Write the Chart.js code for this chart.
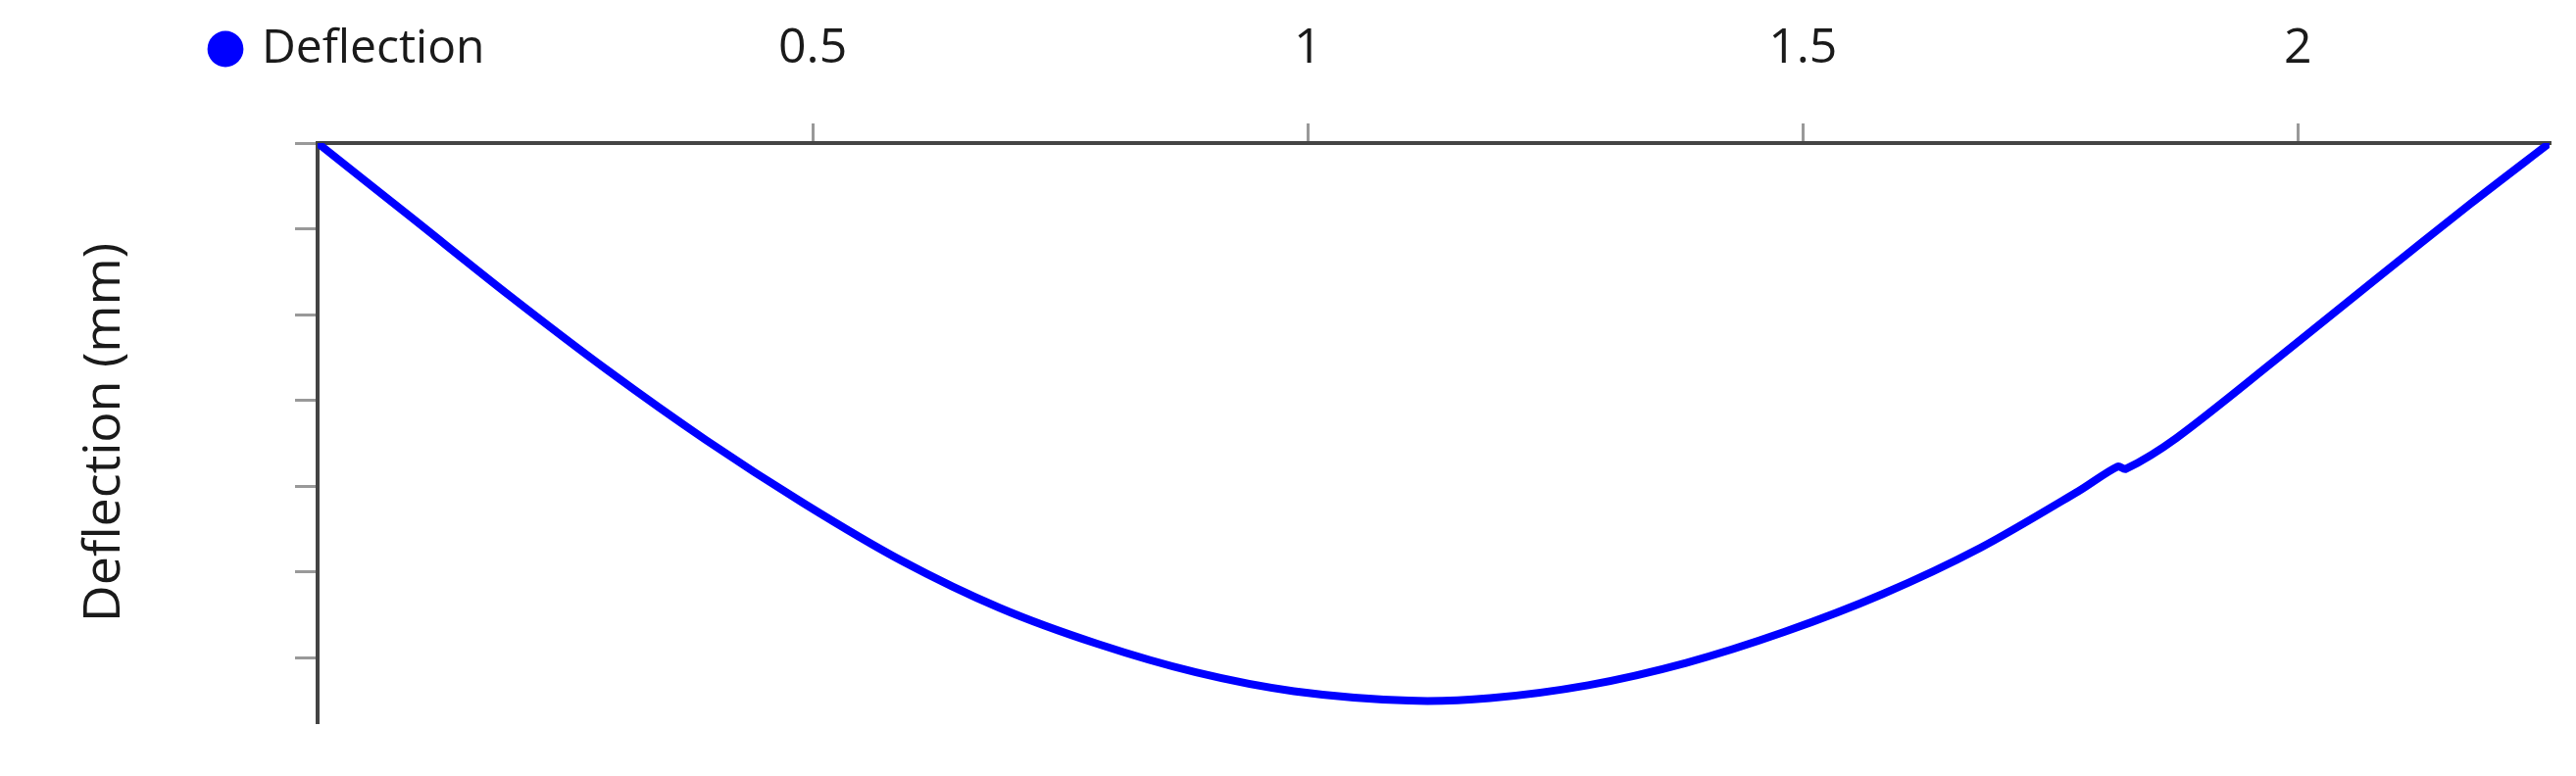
<!DOCTYPE html>
<html>
<head>
<meta charset="utf-8">
<script src="https://cdn.jsdelivr.net/npm/chart.js@4.4.1/dist/chart.umd.min.js"></script>
<style>
  html, body { margin: 0; padding: 0; background: #fff; }
  #deflection_chart { display: block; }
</style>
</head>
<body>
<canvas id="deflection_chart" width="2628" height="792"></canvas>
<script>
// position along the beam (m) and deflection (mm)
const position = [0, 0.095, 0.194, 0.293, 0.392, 0.491, 0.590, 0.689, 0.788, 0.887, 0.986, 1.102, 1.184,
  1.283, 1.382, 1.481, 1.580, 1.679, 1.778, 1.818, 1.826, 1.877, 1.976, 2.075, 2.174, 2.254];
const deflection = [0, -0.87, -1.78, -2.65, -3.46, -4.20, -4.87, -5.42, -5.84, -6.17, -6.39, -6.50, -6.47,
  -6.32, -6.06, -5.70, -5.26, -4.72, -4.06, -3.77, -3.80, -3.44, -2.54, -1.62, -0.71, 0];
const xTicks = [0.5, 1, 1.5, 2];
const yTicks = [0, -1, -2, -3, -4, -5, -6];

Chart.defaults.font.family = "'Open Sans', sans-serif";

// legend takes no room in the layout, it is drawn in the row of the top axis labels
const legendPlace = {
  id: 'legendPlace',
  beforeInit(chart) {
    const fit = chart.legend.fit;
    chart.legend.fit = function () { fit.call(this); this.height = 0; };
  },
  beforeDraw(chart) {
    const lg = chart.legend;
    lg.left = 207;
    lg.top = 16;
    lg.height = 68;
    lg.bottom = 84;
  }
};

const deflection_chart = document.getElementById('deflection_chart');

new Chart(deflection_chart, {
  type: 'line',
  data: {
    datasets: [{
      label: 'Deflection',
      data: position.map((x, i) => ({ x: x, y: deflection[i] })),
      borderColor: '#0000ff',
      backgroundColor: '#0000ff',
      pointBackgroundColor: '#0000ff',
      pointBorderWidth: 0,
      pointStyle: 'circle',
      pointRadius: 0,
      borderWidth: 8,
      tension: 0.3
    }]
  },
  plugins: [legendPlace],
  options: {
    responsive: false,
    animation: false,
    layout: { padding: { left: 72, right: 27, top: 0, bottom: 55 } },
    plugins: {
      tooltip: { enabled: false },
      legend: {
        position: 'top',
        align: 'start',
        labels: {
          usePointStyle: true,
          boxWidth: 26,
          boxHeight: 26,
          padding: 10,
          color: '#1a1a1a',
          font: { size: 48 }
        }
      }
    },
    scales: {
      x: {
        type: 'linear',
        position: 'top',
        min: 0,
        max: 2.254,
        afterBuildTicks: scale => { scale.ticks = xTicks.map(v => ({ value: v })); },
        afterFit: scale => { scale.height = 146; },
        ticks: {
          color: '#1a1a1a',
          font: { size: 50 },
          padding: 46,
          maxRotation: 0,
          autoSkip: false,
          callback: v => String(v)
        },
        grid: { drawOnChartArea: false, tickLength: 20, color: '#999', lineWidth: 3 },
        border: { color: '#444', width: 4 }
      },
      y: {
        type: 'linear',
        min: -6.75,
        max: 0,
        afterBuildTicks: scale => { scale.ticks = yTicks.map(v => ({ value: v })); },
        afterFit: scale => { scale.width = 252; },
        ticks: { display: false },
        grid: { drawOnChartArea: false, tickLength: 23, color: '#999', lineWidth: 3 },
        border: { color: '#444', width: 4 },
        title: {
          display: true,
          text: 'Deflection (mm)',
          color: '#1a1a1a',
          font: { size: 52 },
          padding: { top: 4, bottom: 4 }
        }
      }
    }
  }
});
</script>
</body>
</html>
